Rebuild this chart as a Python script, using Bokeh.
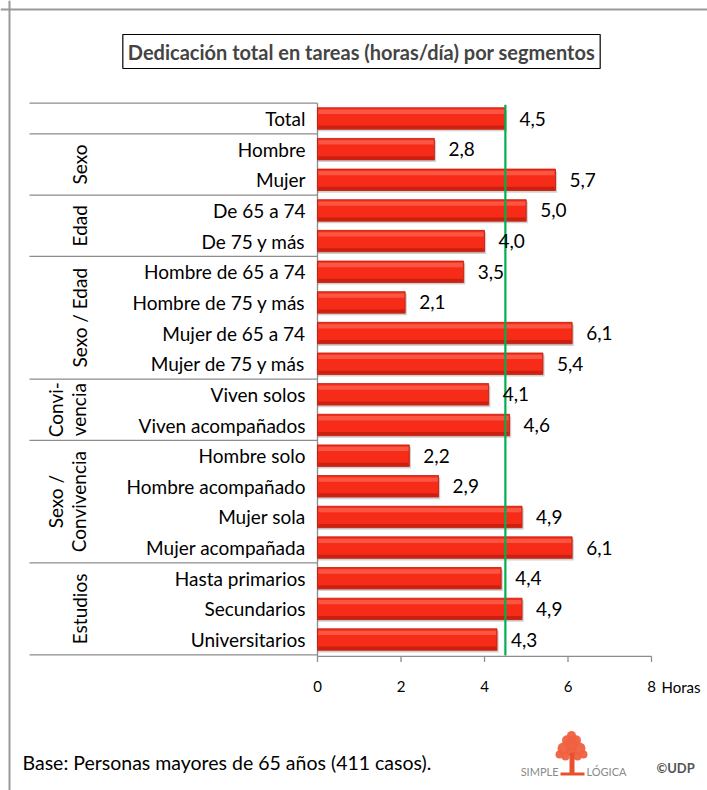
import math
from bokeh.plotting import figure
from bokeh.models import Range1d, Span, Label, ColumnDataSource
from bokeh.core.properties import value
from bokeh.embed import file_html
from bokeh.resources import INLINE

# ---------------- data ----------------
categories = ["Total", "Hombre", "Mujer", "De 65 a 74", "De 75 y más",
              "Hombre de 65 a 74", "Hombre de 75 y más", "Mujer de 65 a 74",
              "Mujer de 75 y más", "Viven solos", "Viven acompañados",
              "Hombre solo", "Hombre acompañado", "Mujer sola",
              "Mujer acompañada", "Hasta primarios", "Secundarios",
              "Universitarios"]
values = [4.5, 2.8, 5.7, 5.0, 4.0, 3.5, 2.1, 6.1, 5.4, 4.1, 4.6,
          2.2, 2.9, 4.9, 6.1, 4.4, 4.9, 4.3]
group_names = ["Sexo", "Edad", "Sexo / Edad", "Convi-\nvencia",
               "Sexo /\nConvivencia", "Estudios"]
group_first = [1, 3, 5, 9, 11, 15]
group_last = [2, 4, 8, 10, 14, 17]
reference_value = 4.5
x_ticks = [0, 2, 4, 6, 8]
tick_labels = ["0", "2", "4", "6", "8"]
axis_unit = "Horas"
title_text = "Dedicación total en tareas (horas/día) por segmentos"
footer_text = "Base: Personas mayores de 65 años (411 casos)."

# ---------------- layout ----------------
W, H = 707, 790
X0, SX = 317.0, 41.75      # canvas px of value 0, px per hour
Y0, SY = 118.0, 30.65      # canvas px of row 0, px per row


def px2x(px):  # page px -> data x
    return (px - X0) / SX


def px2y(py):  # page px -> data y
    return (py - Y0) / SY


p = figure(width=W, height=H, output_backend="svg", toolbar_location=None,
           x_range=Range1d(-X0 / SX, (W - X0) / SX),
           y_range=Range1d((H - Y0) / SY, -Y0 / SY),
           min_border=0)
p.axis.visible = False
p.grid.visible = False
p.outline_line_color = None
p.background_fill_color = "white"
p.border_fill_color = "white"

FONT = value("Lato")
GRAY = "#8c8c8c"

n = len(categories)
rows = list(range(n))

# outer frame (left and top edges visible)
p.add_layout(Span(location=px2x(9), dimension="height", line_color="#9a9a9a", line_width=2))
p.add_layout(Span(location=px2y(9), dimension="width", line_color="#9a9a9a", line_width=2))

# table lines
bounds = [-0.5, 0.5] + [g + 0.5 for g in group_last]
p.segment(x0=[px2x(29)] * len(bounds), x1=[0] * len(bounds), y0=bounds, y1=bounds,
          line_color=GRAY, line_width=1.3)
p.segment(x0=[0], x1=[0], y0=[-0.5], y1=[n - 0.45], line_color=GRAY, line_width=1.3)

# bars: shadow, body, highlight, bottom edge
src = ColumnDataSource(dict(y=rows, right=values, cat=categories,
                            lab=[f"{v:.1f}".replace(".", ",") for v in values]))
p.hbar(y=[r + 0.07 for r in rows], left=0, right=[v + 0.04 for v in values], height=0.7,
       fill_color="#7a7a7a", fill_alpha=0.35, line_color=None)
p.hbar(y="y", left=0, right="right", height=0.7, source=src,
       fill_color="#F72C18", line_color="#B9180A", line_width=0.8)
p.hbar(y=[r - 0.22 for r in rows], left=0.02, right=[v - 0.02 for v in values], height=0.14,
       fill_color="#FF7A66", fill_alpha=0.55, line_color=None)
p.hbar(y=[r + 0.28 for r in rows], left=0.02, right=[v - 0.02 for v in values], height=0.1,
       fill_color="#A8150A", fill_alpha=0.55, line_color=None)

# reference line
p.segment(x0=[reference_value], x1=[reference_value], y0=[-0.45], y1=[n - 0.48],
          line_color="#00B050", line_width=2.2)

# value labels
p.text(x="right", y="y", text="lab", source=src, x_offset=14,
       text_font=FONT, text_font_size="19px", text_baseline="middle",
       text_align="left", text_color="black")

# category labels
p.text(x=[px2x(305)] * n, y=rows, text=categories, text_font=FONT,
       text_font_size="19px", text_baseline="middle", text_align="right",
       text_color="black")

# group labels (rotated)
for name, a, b in zip(group_names, group_first, group_last):
    lines = name.split("\n")
    yc = (a + b) / 2
    if len(lines) == 1:
        xs = [px2x(79)]
    else:
        xs = [px2x(55), px2x(78)]
    for ln, xx in zip(lines, xs):
        p.text(x=[xx], y=[yc], text=[ln], angle=math.pi / 2, text_font=FONT,
               text_font_size="19px", text_align="center", text_baseline="middle",
               text_color="black")

# x axis
y_axis = n - 0.45
p.segment(x0=[0], x1=[x_ticks[-1]], y0=[y_axis], y1=[y_axis], line_color=GRAY, line_width=1.3)
p.segment(x0=x_ticks, x1=x_ticks, y0=[y_axis] * len(x_ticks),
          y1=[y_axis + 0.18] * len(x_ticks), line_color=GRAY, line_width=1.3)
p.text(x=x_ticks, y=[px2y(686)] * len(x_ticks), text=tick_labels, text_font=FONT,
       text_font_size="15px", text_align="center", text_baseline="middle",
       text_color="black")
p.text(x=[px2x(661)], y=[px2y(686)], text=[axis_unit], text_font=FONT,
       text_font_size="15px", text_align="left", text_baseline="middle",
       text_color="black")

# title with box
p.add_layout(Label(x=px2x(361), y=px2y(51), text=title_text, text_font="Lato",
                   text_font_size="20px", text_font_style="bold", text_align="center",
                   text_baseline="middle", border_line_color="black", border_line_width=1.2,
                   padding=5, background_fill_color="white"))

# footer
p.text(x=[px2x(22)], y=[px2y(762)], text=[footer_text], text_font=FONT,
       text_font_size="19.5px", text_align="left", text_baseline="middle",
       text_color="black")

# logo: tree
tx = [563, 571, 579, 567, 575, 571, 559, 583, 571, 565, 577]
ty = [748, 744, 748, 740, 740, 751, 754, 754, 735, 756, 756]
tr = [6, 6.5, 6, 5.5, 5.5, 5, 4, 4, 4.5, 4, 4]
p.circle(x=[px2x(v) for v in tx], y=[px2y(v) for v in ty], radius=[r / SX for r in tr],
         fill_color="#F0603F", line_color=None, fill_alpha=0.95)
p.quad(left=[px2x(569)], right=[px2x(574)], top=[px2y(752)], bottom=[px2y(774)],
       fill_color="#E8502E", line_color=None)
p.quad(left=[px2x(560)], right=[px2x(584)], top=[px2y(772)], bottom=[px2y(775)],
       fill_color="#E8502E", line_color=None)
p.text(x=[px2x(558)], y=[px2y(771)], text=["SIMPLE"], text_font=FONT,
       text_font_size="11px", text_align="right", text_baseline="middle",
       text_color="#8a8a8a")
p.text(x=[px2x(586)], y=[px2y(771)], text=["LÓGICA"], text_font=FONT,
       text_font_size="11px", text_align="left", text_baseline="middle",
       text_color="#8a8a8a")
p.text(x=[px2x(656)], y=[px2y(767)], text=["©UDP"], text_font=FONT,
       text_font_size="13px", text_font_style="bold", text_align="left",
       text_baseline="middle", text_color="#555555")

open("out.html", "w").write(file_html(p, INLINE))
